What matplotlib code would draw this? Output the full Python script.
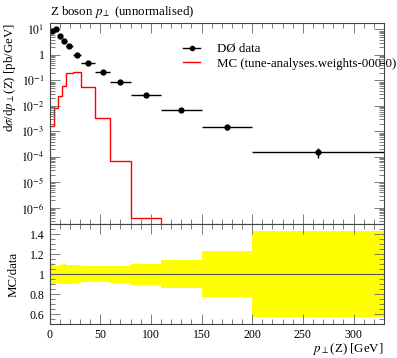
import numpy as np
import matplotlib
matplotlib.use("Agg")
import matplotlib.pyplot as plt
from matplotlib.ticker import FixedLocator, FuncFormatter, MultipleLocator, LogLocator, NullFormatter

plt.rcParams['font.family'] = ['Liberation Serif', 'DejaVu Serif']
plt.rcParams['mathtext.fontset'] = 'stix'

# bin edges in pT(Z) [GeV]
edges = [0, 4, 8, 12, 16, 23, 31, 45, 60, 80, 110, 150, 200, 330]
# data: points and relative errors
data_x = [2, 6, 10, 14, 19.5, 27, 38, 52.5, 70, 95, 130, 175, 265]
data_y = [8.8, 10.0, 5.6, 3.6, 2.15, 1.0, 0.49, 0.217, 0.085, 0.026, 0.0071, 0.0015, 1.55e-4]
rel_err = [0.11, 0.085, 0.095, 0.10, 0.095, 0.09, 0.08, 0.08, 0.085, 0.105, 0.14, 0.23, 0.435]
# MC histogram (zero beyond 110 GeV)
mc_y = [1.66e-3, 8.2e-3, 0.024, 0.063, 0.19, 0.22, 0.054, 3.4e-3, 6.9e-5, 4.0e-7, 0, 0, 0]

edges = np.array(edges, float)
data_x = np.array(data_x)
data_y = np.array(data_y)
rel_err = np.array(rel_err)
mc_y = np.array(mc_y)

FS = 9.3

fig = plt.figure(figsize=(3.97, 3.58), dpi=100)
ax = fig.add_axes([0.1247, 0.374, 0.8425, 0.5615])
rax = fig.add_axes([0.1247, 0.095, 0.8425, 0.279], sharex=ax)

# MC histogram as steps
mc_plot = np.where(mc_y > 0, mc_y, 1e-12)
ax.stairs(mc_plot, edges, color='red', lw=1.0, baseline=None)

# data
xlo = data_x - edges[:-1]
xhi = edges[1:] - data_x
ax.errorbar(data_x, data_y, xerr=[xlo, xhi], yerr=data_y * rel_err,
            fmt='o', color='black', ms=3.5, lw=1.0, capsize=0)

ax.set_yscale('log')
ax.set_xlim(0, 330)
ax.set_ylim(10**-6.64, 10**1.25)

def logfmt(v, pos):
    e = int(round(np.log10(v)))
    if e == 0:
        return '1'
    return r'$10^{%d}$' % e

ax.yaxis.set_major_locator(LogLocator(base=10, numticks=20))
ax.yaxis.set_major_formatter(FuncFormatter(logfmt))
ax.yaxis.set_minor_locator(LogLocator(base=10, subs=np.arange(2, 10), numticks=20))
ax.yaxis.set_minor_formatter(NullFormatter())
ax.tick_params(labelbottom=False)

# legend
ax.plot([], [], color='black', marker='o', ms=3, lw=1.0, label='DØ data')
ax.plot([], [], color='red', lw=1.0, label='MC (tune-analyses.weights-000-0)')
h, l = ax.get_legend_handles_labels()
leg = ax.legend(h[-2:], l[-2:], loc='upper left', bbox_to_anchor=(0.399, 0.9), frameon=False,
                fontsize=FS, handlelength=1.35, handletextpad=1.3, labelspacing=0.2,
                borderaxespad=0, borderpad=0)

ax.set_ylabel(r'd$\sigma$/d$p_\perp$(Z) [pb/GeV]', fontsize=FS, loc='top')
ax.yaxis.set_label_coords(-0.095, 1.0)
fig.text(0.1247, 0.945, r'Z boson $p_\perp$ (unnormalised)', fontsize=FS, ha='left', va='bottom')

# ratio panel
lo = 1 - rel_err
hi = 1 + rel_err
rax.stairs(hi, edges, baseline=lo, fill=True, color='yellow', lw=0)
rax.axhline(1.0, color='#555555', lw=0.8)
rax.set_ylim(0.5, 1.5)
rax.yaxis.set_major_locator(FixedLocator([0.6, 0.8, 1.0, 1.2, 1.4]))
rax.yaxis.set_major_formatter(FuncFormatter(lambda v, p: '1' if abs(v - 1) < 1e-9 else '%.1f' % v))
rax.yaxis.set_minor_locator(MultipleLocator(0.05))
rax.xaxis.set_major_locator(MultipleLocator(50))
rax.xaxis.set_minor_locator(MultipleLocator(10))
rax.set_ylabel('MC/data', fontsize=FS)
rax.yaxis.set_label_coords(-0.09, 0.5)
rax.set_xlabel(r'$p_\perp$(Z) [GeV]', fontsize=FS, loc='right', labelpad=0)

for a in (ax, rax):
    a.tick_params(which='both', direction='in', top=True, right=True, labelsize=8.5, color='#666666')
    a.tick_params(which='major', length=7, width=0.6)
    a.tick_params(which='minor', length=3.5, width=0.6)
    for s in a.spines.values():
        s.set_color('#444444')
        s.set_linewidth(0.8)

fig.savefig('out.png', dpi=100)
